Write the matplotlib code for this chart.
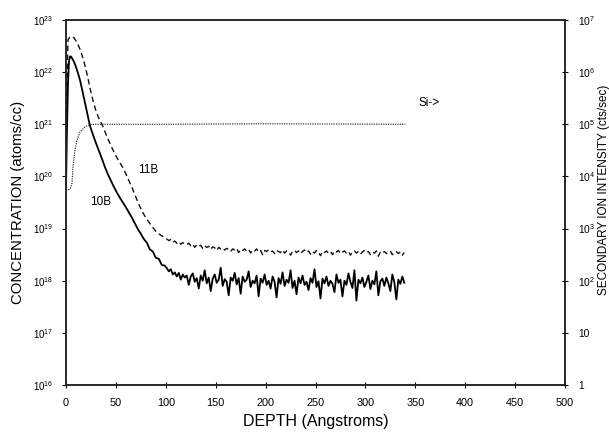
import numpy as np
import matplotlib
matplotlib.use("Agg")
import matplotlib.pyplot as plt

plt.rcParams['font.family'] = ['Liberation Sans', 'DejaVu Sans']
plt.rcParams['mathtext.fontset'] = 'custom'
plt.rcParams['mathtext.rm'] = 'Liberation Sans'
plt.rcParams['mathtext.it'] = 'Liberation Sans:italic'
plt.rcParams['mathtext.bf'] = 'Liberation Sans:bold'

# ---------------- data (log10 of concentration, atoms/cc) ----------------
b10_head_depth = [0, 1, 2, 3, 4, 5, 6, 8, 10, 12, 14, 16, 18, 20, 22, 24, 27, 30, 33, 36,
                  39, 42, 45, 48, 51, 54, 57, 60, 63, 66, 69, 72, 75, 78, 81, 84, 87, 90, 93, 96, 99]
b10_head_log = [19.80, 20.90, 21.80, 22.20, 22.30, 22.30, 22.27, 22.20, 22.10, 21.98, 21.85, 21.68,
                21.50, 21.32, 21.14, 20.97, 20.80, 20.64, 20.49, 20.34, 20.18, 20.04, 19.92, 19.80,
                19.69, 19.59, 19.50, 19.41, 19.31, 19.21, 19.10, 18.99, 18.90, 18.80, 18.73, 18.60,
                18.56, 18.44, 18.42, 18.30, 18.29]

tail_depth = list(range(101, 340, 2))
b10_tail_log = [
    18.24, 18.18, 18.22, 18.12, 18.16, 18.08, 18.15, 18.02, 18.12, 18.06,
    18.10, 17.92, 18.08, 18.14, 17.98, 18.05, 17.85, 18.10, 18.00, 18.20,
    17.95, 18.06, 17.80, 18.04, 18.12, 17.96, 18.02, 18.25, 17.90, 18.03,
    17.98, 17.72, 18.06, 18.00, 18.15, 17.93, 18.05, 17.75, 18.08, 17.98,
    18.02, 18.18, 17.88, 18.00, 17.95, 18.10, 17.70, 18.04, 17.96, 18.12,
    17.92, 18.00, 17.85, 18.08, 17.98, 17.68, 18.05, 17.94, 18.16, 17.90,
    18.02, 17.96, 18.20, 17.86, 18.00, 17.74, 18.06, 17.95, 18.10, 17.92,
    17.98, 17.82, 18.05, 17.96, 18.22, 17.88, 17.99, 17.66, 18.04, 17.95,
    18.08, 17.90, 18.00, 17.94, 17.78, 18.12, 17.96, 18.02, 17.70, 18.00,
    17.92, 18.14, 17.98, 17.86, 18.20, 17.62, 18.02, 17.95, 18.06, 17.88,
    17.98, 18.10, 17.84, 18.00, 17.93, 18.18, 17.72, 17.99, 18.04, 17.90,
    18.06, 17.95, 17.80, 18.12, 17.97, 17.64, 18.02, 17.94, 18.08, 17.96]

b11_head_depth = [0, 1, 2, 4, 6, 8, 10, 12, 14, 16, 18, 20, 22, 24, 27, 30, 33, 36, 39, 42,
                  45, 48, 51, 54, 57, 60, 63, 66, 69, 72, 75, 78, 81, 84, 87, 90, 93, 96, 99]
b11_head_log = [20.50, 21.80, 22.62, 22.68, 22.68, 22.66, 22.60, 22.53, 22.44, 22.33, 22.20,
                22.05, 21.88, 21.70, 21.46, 21.26, 21.11, 21.00, 20.86, 20.72, 20.59, 20.47,
                20.36, 20.26, 20.17, 20.05, 19.92, 19.79, 19.65, 19.51, 19.38, 19.27, 19.18,
                19.10, 19.02, 18.95, 18.90, 18.86, 18.82]
b11_tail_log = [
    18.80, 18.77, 18.79, 18.74, 18.76, 18.72, 18.75, 18.70, 18.73, 18.71,
    18.69, 18.72, 18.67, 18.70, 18.64, 18.69, 18.66, 18.68, 18.62, 18.67,
    18.64, 18.66, 18.60, 18.65, 18.63, 18.58, 18.64, 18.61, 18.63, 18.59,
    18.62, 18.60, 18.56, 18.61, 18.59, 18.62, 18.54, 18.60, 18.58, 18.61,
    18.57, 18.60, 18.53, 18.59, 18.57, 18.61, 18.55, 18.58, 18.50, 18.58,
    18.56, 18.59, 18.55, 18.57, 18.52, 18.58, 18.56, 18.54, 18.59, 18.53,
    18.57, 18.55, 18.49, 18.56, 18.58, 18.54, 18.57, 18.52, 18.56, 18.59,
    18.54, 18.57, 18.51, 18.56, 18.53, 18.58, 18.55, 18.48, 18.56, 18.54,
    18.57, 18.53, 18.56, 18.50, 18.57, 18.55, 18.58, 18.52, 18.55, 18.57,
    18.53, 18.56, 18.49, 18.55, 18.57, 18.53, 18.56, 18.51, 18.55, 18.58,
    18.54, 18.56, 18.50, 18.55, 18.53, 18.57, 18.47, 18.55, 18.53, 18.56,
    18.52, 18.55, 18.57, 18.50, 18.54, 18.56, 18.52, 18.55, 18.49, 18.54]

si_depth = [0, 2, 4, 5, 6, 7, 9, 11, 14, 19, 24, 29, 40, 100, 200, 340]
si_log = [19.75, 19.74, 19.76, 19.80, 19.87, 20.18, 20.51, 20.70, 20.85, 20.95, 20.99,
          21.00, 21.00, 21.00, 21.01, 21.00]

x_ticks = [0, 50, 100, 150, 200, 250, 300, 350, 400, 450, 500]
left_exps = [16, 17, 18, 19, 20, 21, 22, 23]
right_labels = ['1', '10', '$10^2$', '$10^3$', '$10^4$', '$10^5$', '$10^6$', '$10^7$']

# ---------------- figure ----------------
fig = plt.figure(figsize=(6.09, 4.34), dpi=100)
ax = fig.add_axes([66 / 609, 49 / 434, 499 / 609, 365 / 434])

b10_d = b10_head_depth + tail_depth
b10_v = 10 ** np.array(b10_head_log + b10_tail_log)
b11_d = b11_head_depth + tail_depth
b11_v = 10 ** np.array(b11_head_log + b11_tail_log)
si_v = 10 ** np.array(si_log)

ax.plot(si_depth, si_v, color='#222222', lw=0.85, dashes=(1.0, 1.0))
ax.plot(b11_d, b11_v, color='#111111', lw=1.0, dashes=(4, 2.5))
ax.plot(b10_d, b10_v, color='black', lw=1.3)

ax.set_yscale('log')
ax.set_xlim(0, 500)
ax.set_ylim(1e16, 1e23)
ax.set_xticks(x_ticks)
ax.set_xticklabels([str(t) for t in x_ticks])
ax.set_yticks([10.0 ** e for e in left_exps])
ax.set_yticklabels(['$10^{%d}$' % e for e in left_exps])
ax.minorticks_off()
ax.tick_params(axis='x', direction='inout', length=4, width=0.8, pad=7, labelsize=7.8)
ax.tick_params(axis='y', direction='out', length=3, width=0.8, pad=6, labelsize=7)
for s in ax.spines.values():
    s.set_linewidth(1.1)
    s.set_color('#222222')

ax2 = ax.twinx()
ax2.set_yscale('log')
ax2.set_ylim(1, 1e7)
ax2.set_yticks([10.0 ** i for i in range(8)])
ax2.set_yticklabels(right_labels)
ax2.minorticks_off()
ax2.tick_params(axis='y', direction='inout', length=5, width=0.8, pad=7, labelsize=7.4)
for s in ax2.spines.values():
    s.set_linewidth(1.1)
    s.set_color('#222222')

ax.set_xlabel('DEPTH (Angstroms)', fontsize=11.5, labelpad=5)
ax.set_ylabel('CONCENTRATION (atoms/cc)', fontsize=10.7, labelpad=6)
ax2.set_ylabel('SECONDARY ION INTENSITY (cts/sec)', fontsize=8.5)
ax2.yaxis.set_label_coords((598 - 66) / 499, (385 - 190) / 365)

ax.text(35, 10 ** 19.51, '10B', ha='center', va='center', fontsize=8.5)
ax.text(82, 10 ** 20.12, '11B', ha='center', va='center', fontsize=8.5)
ax.text(364, 10 ** 21.41, 'Si->', ha='center', va='center', fontsize=8.5)

fig.savefig('out.png', dpi=100)
